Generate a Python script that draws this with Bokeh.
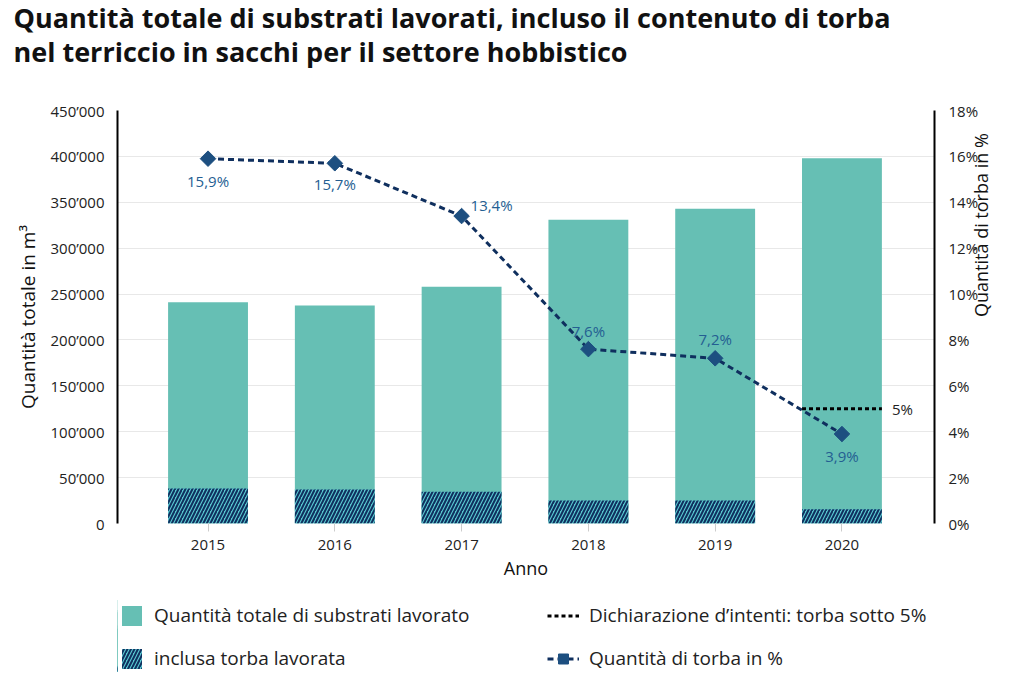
import math
from bokeh.plotting import figure
from bokeh.layouts import column
from bokeh.models import Range1d, LinearAxis, FixedTicker, Legend, LegendItem, Title
from bokeh.core.properties import value
from bokeh.embed import file_html
from bokeh.resources import INLINE

# ---- data ----
years = [2015, 2016, 2017, 2018, 2019, 2020]
total_m3 = [241000, 237500, 258000, 331000, 343000, 398000]
peat_m3 = [38000, 37000, 34500, 25000, 25000, 15500]
peat_pct = [15.9, 15.7, 13.4, 7.6, 7.2, 3.9]
pct_labels = ["15,9%", "15,7%", "13,4%", "7,6%", "7,2%", "3,9%"]
target_year = [2020]
target_pct = [5]
target_label = ["5%"]
left_ticks = [0, 50000, 100000, 150000, 200000, 250000, 300000, 350000, 400000, 450000]
left_tick_labels = ["0", "50\u2019000", "100\u2019000", "150\u2019000", "200\u2019000",
                    "250\u2019000", "300\u2019000", "350\u2019000", "400\u2019000", "450\u2019000"]
right_ticks = [0, 2, 4, 6, 8, 10, 12, 14, 16, 18]
right_tick_labels = ["0%", "2%", "4%", "6%", "8%", "10%", "12%", "14%", "16%", "18%"]

title_line1 = "Quantità totale di substrati lavorati, incluso il contenuto di torba"
title_line2 = "nel terriccio in sacchi per il settore hobbistico"
left_axis_title = "Quantità totale in m³"
right_axis_title = "Quantità di torba in %"
x_axis_title = "Anno"
legend_labels = ["Quantità totale di substrati lavorato", "inclusa torba lavorata",
                 "Dichiarazione d\u2019intenti: torba sotto 5%", "Quantità di torba in %"]

# ---- styles ----
FONT = "Open Sans"
TEAL = "#66bfb4"
HATCH_BG = "#58c7d0"
NAVY = "#0f2f5e"
DIAMOND = "#1d4f80"
LABEL_BLUE = "#245e92"
BAR_W = 0.63
label_dx = [0, 0, 30, 0, 0, 0]
label_dy = [22, 21, -11, -18, -19, 22]
TOTAL_STYLE = dict(width=BAR_W, fill_color=TEAL, line_color=None)
PEAT_STYLE = dict(width=BAR_W, fill_color=HATCH_BG, line_color=None, hatch_pattern="/",
                  hatch_color=NAVY, hatch_weight=2.0, hatch_scale=7)
TARGET_STYLE = dict(line_color="black", line_width=3, line_dash="4 3")
LINE_STYLE = dict(line_color=NAVY, line_width=3, line_dash="6 4")
PT_STYLE = dict(marker="square", angle=math.pi / 4, size=11,
                fill_color=DIAMOND, line_color=DIAMOND)

# ---- main chart ----
p = figure(width=1008, height=590, output_backend="svg", toolbar_location=None,
           x_range=Range1d(2014.286, 2020.73), y_range=Range1d(0, 450000),
           min_border_left=117, min_border_right=61, min_border_top=108,
           min_border_bottom=67)
p.outline_line_color = None
p.background_fill_color = "white"

# titles: spacer nearest the frame, then line 2, then line 1
TSTYLE = dict(text_font=FONT, text_font_size="27px", text_font_style="bold",
              text_color="#111111", align="left", offset=-104)
p.add_layout(Title(text=" ", standoff=4, **TSTYLE), "above")
p.add_layout(Title(text=title_line2, standoff=-4, **TSTYLE), "above")
p.add_layout(Title(text=title_line1, standoff=-7, **TSTYLE), "above")

# grid
p.xgrid.grid_line_color = None
p.ygrid.ticker = FixedTicker(ticks=left_ticks)
p.ygrid.grid_line_color = "#e8e8e8"
p.ygrid.grid_line_width = 1

# left axis
ya = p.yaxis[0]
ya.ticker = FixedTicker(ticks=left_ticks)
ya.major_label_overrides = dict(zip(left_ticks, left_tick_labels))
ya.major_tick_line_color = None
ya.minor_tick_line_color = None
ya.axis_line_color = "black"
ya.axis_line_width = 2
ya.major_label_text_font = FONT
ya.major_label_text_font_size = "15px"
ya.major_label_text_color = "#222222"
ya.major_label_standoff = 7
ya.axis_label = left_axis_title
ya.axis_label_text_font = FONT
ya.axis_label_text_font_size = "19px"
ya.axis_label_text_font_style = "normal"
ya.axis_label_text_color = "#111111"
ya.axis_label_standoff = 6

# right axis
p.extra_y_ranges = {"pct": Range1d(0, 18)}
ra = LinearAxis(y_range_name="pct")
ra.ticker = FixedTicker(ticks=right_ticks)
ra.major_label_overrides = dict(zip(right_ticks, right_tick_labels))
ra.major_tick_line_color = None
ra.minor_tick_line_color = None
ra.axis_line_color = "black"
ra.axis_line_width = 2
ra.major_label_text_font = FONT
ra.major_label_text_font_size = "15px"
ra.major_label_text_color = "#222222"
ra.major_label_standoff = 8
ra.axis_label = right_axis_title
ra.axis_label_text_font = FONT
ra.axis_label_text_font_size = "18px"
ra.axis_label_text_font_style = "normal"
ra.axis_label_text_color = "#111111"
ra.axis_label_standoff = 0
if "axis_label_orientation" in ra.properties():
    ra.axis_label_orientation = math.pi / 2
p.add_layout(ra, "right")

# x axis
xa = p.xaxis[0]
xa.ticker = FixedTicker(ticks=years)
xa.axis_line_color = None
xa.major_tick_in = 0
xa.major_tick_out = 8
xa.major_tick_line_color = "#cccccc"
xa.minor_tick_line_color = None
xa.major_label_text_font = FONT
xa.major_label_text_font_size = "15px"
xa.major_label_text_color = "#222222"
xa.major_label_standoff = 8
xa.axis_label = x_axis_title
xa.axis_label_text_font = FONT
xa.axis_label_text_font_size = "18px"
xa.axis_label_text_font_style = "normal"
xa.axis_label_text_color = "#111111"
xa.axis_label_standoff = 3

# bars
p.vbar(x=years, top=total_m3, **TOTAL_STYLE)
p.vbar(x=years, top=peat_m3, **PEAT_STYLE)

# target line
p.segment(x0=[y - BAR_W / 2 for y in target_year],
          x1=[y + BAR_W / 2 for y in target_year],
          y0=target_pct, y1=target_pct, y_range_name="pct", **TARGET_STYLE)
p.text(x=[y + BAR_W / 2 for y in target_year], y=target_pct, text=target_label,
       y_range_name="pct", x_offset=10, text_align="left", text_baseline="middle",
       text_font=value(FONT), text_font_size="15px", text_color="#222222")

# peat percentage line
p.line(x=years, y=peat_pct, y_range_name="pct", **LINE_STYLE)
p.scatter(x=years, y=peat_pct, y_range_name="pct", **PT_STYLE)
p.text(x=years, y=peat_pct, text=pct_labels, y_range_name="pct",
       x_offset=label_dx, y_offset=label_dy, text_align="center",
       text_baseline="middle", text_font=value(FONT), text_font_size="15px",
       text_color=LABEL_BLUE)

# ---- legend strip (its renderers lie just left of its visible x range) ----
lg = figure(width=1008, height=82, output_backend="svg", toolbar_location=None,
            x_range=Range1d(2021.5, 2022.5), y_range=Range1d(0, 450000),
            min_border_left=0, min_border_right=0, min_border_top=0,
            min_border_bottom=0)
lg.axis.visible = False
lg.grid.visible = False
lg.outline_line_color = None
l_total = lg.vbar(x=years, top=total_m3, **TOTAL_STYLE)
l_peat = lg.vbar(x=years, top=peat_m3, **PEAT_STYLE)
l_target = lg.segment(x0=target_year, x1=target_year, y0=target_pct, y1=target_pct,
                      **TARGET_STYLE)
l_line = lg.line(x=years, y=peat_pct, **LINE_STYLE)
l_pts = lg.scatter(x=years, y=peat_pct, **PT_STYLE)

LEG_STYLE = dict(label_text_font=FONT, label_text_font_size="19px",
                 label_text_color="#222222", glyph_height=25, spacing=17,
                 label_standoff=10, padding=0, margin=0, border_line_color=None,
                 background_fill_alpha=0)
leg1 = Legend(items=[LegendItem(label=legend_labels[0], renderers=[l_total]),
                     LegendItem(label=legend_labels[1], renderers=[l_peat])],
              location=(2, 1), glyph_width=25, **LEG_STYLE)
leg2 = Legend(items=[LegendItem(label=legend_labels[2], renderers=[l_target]),
                     LegendItem(label=legend_labels[3], renderers=[l_line, l_pts])],
              location=(430, 1), glyph_width=32, **LEG_STYLE)
lg.add_layout(leg1)
lg.add_layout(leg2)

layout = column(p, lg, spacing=0)
open("out.html", "w").write(file_html(layout, INLINE))
